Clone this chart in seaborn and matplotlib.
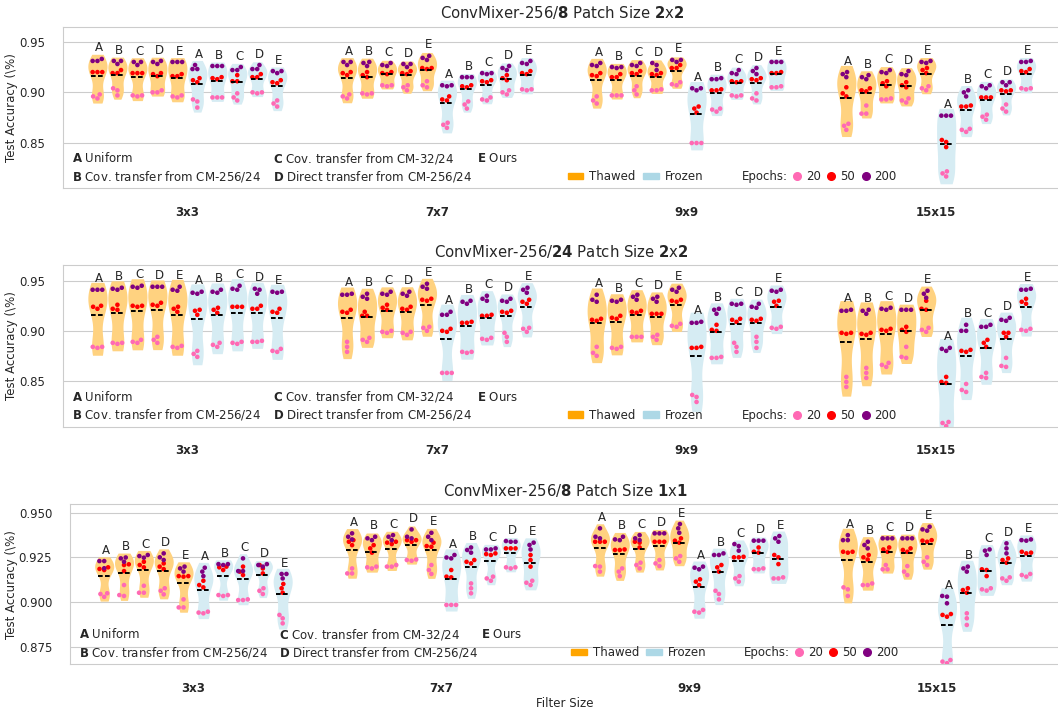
import numpy as np
import pandas as pd
import matplotlib
matplotlib.use("Agg")
from matplotlib import pyplot as plt
from matplotlib.patches import Patch
from matplotlib.lines import Line2D
from matplotlib.ticker import FormatStrFormatter
import seaborn as sns

filters = ['3x3', '7x7', '9x9', '15x15']
modes = ['Thawed', 'Frozen']
methods = ['A', 'B', 'C', 'D', 'E']
epochs = [20, 50, 200]
epoch_colors = ['hotpink', 'red', 'purple']
key_labels = ['Uniform', 'Cov. transfer from CM-256/24', 'Cov. transfer from CM-32/24',
              'Direct transfer from CM-256/24', 'Ours']
titles = [r'ConvMixer-256/$\mathbf{8}$ Patch Size $\mathbf{2}$x$\mathbf{2}$',
          r'ConvMixer-256/$\mathbf{24}$ Patch Size $\mathbf{2}$x$\mathbf{2}$',
          r'ConvMixer-256/$\mathbf{8}$ Patch Size $\mathbf{1}$x$\mathbf{1}$']

# one triplet (3 runs) per violin, ordered filter -> thawed A..E, frozen A..E
p1_e20 = [
    (.898, .896, .894), (.904, .902, .897), (.897, .896, .897), (.902, .900, .900), (.897, .895, .896),
    (.893, .891, .885), (.895, .895, .895), (.899, .895, .892), (.900, .900, .899), (.892, .889, .886),
    (.898, .896, .894), (.899, .899, .898), (.907, .907, .906), (.907, .905, .902), (.911, .907, .905),
    (.870, .868, .865), (.891, .888, .884), (.895, .893, .892), (.902, .900, .898), (.903, .903, .902),
    (.896, .892, .889), (.897, .897, .897), (.906, .902, .898), (.903, .902, .902), (.910, .908, .907),
    (.850, .850, .850), (.884, .883, .881), (.897, .897, .896), (.899, .894, .892), (.906, .905, .905),
    (.869, .867, .863), (.887, .879, .879), (.894, .893, .893), (.894, .892, .890), (.906, .904, .902),
    (.822, .820, .817), (.864, .863, .861), (.878, .876, .873), (.888, .884, .881), (.904, .904, .903)]
p1_e50 = [
    (.920, .920, .920), (.922, .919, .919), (.919, .919, .919), (.919, .918, .916), (.918, .916, .916),
    (.914, .912, .910), (.915, .914, .913), (.917, .911, .911), (.918, .915, .915), (.912, .910, .909),
    (.920, .919, .917), (.920, .917, .915), (.920, .919, .918), (.921, .919, .918), (.924, .924, .923),
    (.896, .893, .892), (.907, .906, .905), (.912, .911, .910), (.917, .914, .912), (.921, .919, .918),
    (.919, .917, .916), (.918, .915, .915), (.921, .919, .918), (.919, .918, .917), (.927, .924, .924),
    (.886, .884, .880), (.903, .902, .902), (.911, .911, .910), (.914, .913, .912), (.920, .919, .919),
    (.905, .899, .896), (.904, .902, .901), (.911, .909, .906), (.910, .907, .905), (.924, .922, .919),
    (.853, .851, .846), (.887, .886, .886), (.895, .895, .895), (.902, .902, .901), (.923, .921, .920)]
p1_e200 = [
    (.931, .931, .933), (.931, .931, .928), (.930, .930, .927), (.931, .930, .928), (.930, .930, .930),
    (.927, .923, .923), (.926, .926, .926), (.925, .922, .922), (.927, .923, .923), (.921, .921, .919),
    (.930, .930, .927), (.930, .929, .926), (.929, .927, .926), (.928, .928, .925), (.936, .934, .932),
    (.907, .907, .906), (.915, .915, .915), (.919, .919, .918), (.926, .924, .922), (.931, .929, .928),
    (.927, .926, .929), (.925, .925, .924), (.929, .927, .926), (.929, .927, .922), (.932, .932, .930),
    (.904, .904, .902), (.914, .913, .913), (.922, .919, .918), (.924, .921, .918), (.930, .930, .930),
    (.920, .918, .915), (.917, .915, .913), (.922, .920, .919), (.921, .918, .917), (.931, .930, .929),
    (.877, .877, .877), (.902, .900, .896), (.907, .906, .904), (.910, .910, .907), (.931, .930, .930)]

p2_e20 = [
    (.884, .884, .883), (.888, .888, .887), (.891, .889, .888), (.894, .891, .888), (.885, .884, .883),
    (.880, .877, .874), (.888, .886, .884), (.889, .888, .887), (.890, .889, .889), (.882, .880, .879),
    (.889, .884, .879), (.893, .891, .889), (.900, .899, .898), (.899, .898, .896), (.904, .903, .900),
    (.858, .858, .858), (.879, .879, .878), (.893, .892, .891), (.898, .894, .889), (.903, .902, .899),
    (.884, .878, .875), (.884, .883, .882), (.894, .894, .894), (.896, .894, .891), (.907, .905, .904),
    (.836, .834, .829), (.874, .873, .873), (.888, .884, .879), (.894, .889, .883), (.904, .903, .902),
    (.854, .849, .844), (.863, .858, .853), (.868, .866, .864), (.884, .874, .873), (.903, .901, .899),
    (.809, .808, .805), (.847, .841, .839), (.858, .854, .853), (.873, .865, .864), (.902, .901, .900)]
p2_e50 = [
    (.925, .924, .922), (.926, .922, .921), (.925, .925, .924), (.928, .926, .925), (.924, .922, .919),
    (.921, .920, .916), (.923, .921, .918), (.924, .924, .924), (.925, .922, .922), (.922, .919, .918),
    (.921, .919, .918), (.919, .915, .915), (.926, .923, .921), (.924, .922, .921), (.932, .931, .930),
    (.902, .900, .899), (.909, .908, .908), (.916, .915, .915), (.920, .919, .918), (.931, .929, .927),
    (.912, .911, .910), (.915, .913, .912), (.920, .919, .918), (.917, .917, .917), (.931, .930, .929),
    (.884, .883, .883), (.906, .901, .900), (.912, .911, .909), (.912, .911, .910), (.930, .929, .925),
    (.898, .898, .897), (.898, .896, .897), (.902, .901, .900), (.904, .901, .899), (.930, .922, .921),
    (.854, .849, .848), (.881, .880, .879), (.891, .888, .884), (.898, .898, .894), (.932, .929, .927)]
p2_e200 = [
    (.941, .941, .941), (.943, .942, .941), (.945, .944, .943), (.944, .944, .944), (.944, .941, .940),
    (.939, .938, .937), (.941, .939, .938), (.945, .942, .941), (.942, .941, .937), (.939, .939, .938),
    (.937, .936, .936), (.937, .934, .932), (.939, .937, .936), (.939, .937, .935), (.947, .944, .942),
    (.919, .916, .916), (.930, .929, .927), (.935, .932, .930), (.932, .930, .929), (.943, .941, .938),
    (.936, .931, .929), (.931, .930, .929), (.936, .934, .931), (.934, .932, .929), (.943, .941, .939),
    (.909, .908, .908), (.922, .921, .917), (.927, .927, .926), (.927, .924, .923), (.941, .940, .939),
    (.921, .920, .920), (.921, .920, .917), (.923, .922, .921), (.921, .921, .921), (.940, .937, .933),
    (.883, .882, .880), (.906, .900, .900), (.906, .904, .904), (.913, .911, .910), (.942, .941, .941)]

p3_e20 = [
    (.9050, .9046, .9030), (.9096, .9040, .9035), (.9092, .9053, .9053), (.9078, .9064, .9044), (.9016, .8971, .8971),
    (.8947, .8938, .8942), (.9040, .9035, .9040), (.9016, .9012, .9012), (.9078, .9064, .9046), (.8929, .8910, .8882),
    (.9189, .9161, .9161), (.9195, .9189, .9199), (.9208, .9199, .9199), (.9239, .9236, .9232), (.9208, .9180, .9158),
    (.8985, .8985, .8985), (.9105, .9078, .9050), (.9143, .9133, .9120), (.9195, .9195, .9189), (.9120, .9109, .9096),
    (.9202, .9199, .9171), (.9189, .9171, .9146), (.9221, .9208, .9189), (.9236, .9217, .9202), (.9258, .9245, .9226),
    (.8957, .8947, .8942), (.9064, .9046, .9016), (.9146, .9133, .9115), (.9189, .9185, .9184), (.9139, .9133, .9133),
    (.9083, .9072, .9035), (.9105, .9096, .9096), (.9208, .9184, .9184), (.9202, .9171, .9152), (.9251, .9226, .9208),
    (.8677, .8668, .8659), (.8938, .8910, .8873), (.9078, .9072, .9065), (.9139, .9133, .9120), (.9158, .9152, .9143)]
p3_e50 = [
    (.9186, .9180, .9195), (.9212, .9208, .9174), (.9226, .9208, .9195), (.9217, .9199, .9185), (.9146, .9143, .9146),
    (.9120, .9096, .9083), (.9195, .9180, .9199), (.9199, .9171, .9152), (.9208, .9189, .9161), (.9102, .9078, .9053),
    (.9347, .9338, .9319), (.9319, .9301, .9277), (.9338, .9333, .9325), (.9347, .9338, .9347), (.9333, .9314, .9310),
    (.9180, .9143, .9139), (.9236, .9226, .9217), (.9273, .9269, .9264), (.9301, .9301, .9301), (.9264, .9236, .9199),
    (.9338, .9338, .9338), (.9295, .9292, .9292), (.9338, .9333, .9306), (.9338, .9338, .9338), (.9357, .9344, .9333),
    (.9128, .9115, .9096), (.9208, .9195, .9171), (.9254, .9251, .9251), (.9306, .9282, .9277), (.9264, .9251, .9213),
    (.9282, .9282, .9277), (.9264, .9251, .9239), (.9306, .9295, .9282), (.9301, .9292, .9282), (.9347, .9344, .9338),
    (.8934, .8929, .8919), (.9078, .9068, .9053), (.9184, .9180, .9146), (.9245, .9236, .9221), (.9282, .9277, .9273)]
p3_e200 = [
    (.9230, .9230, .9190), (.9250, .9245, .9226), (.9264, .9258, .9249), (.9273, .9251, .9236), (.9199, .9189, .9171),
    (.9193, .9171, .9146), (.9213, .9213, .9208), (.9245, .9174, .9174), (.9213, .9208, .9199), (.9158, .9158, .9133),
    (.9385, .9366, .9351), (.9366, .9357, .9347), (.9375, .9366, .9347), (.9407, .9366, .9357), (.9388, .9366, .9347),
    (.9264, .9250, .9245), (.9306, .9292, .9277), (.9301, .9295, .9295), (.9342, .9338, .9338), (.9333, .9320, .9295),
    (.9413, .9366, .9357), (.9366, .9351, .9347), (.9375, .9357, .9347), (.9385, .9385, .9385), (.9437, .9413, .9388),
    (.9199, .9193, .9184), (.9273, .9264, .9264), (.9325, .9314, .9288), (.9344, .9344, .9344), (.9370, .9357, .9338),
    (.9375, .9347, .9347), (.9338, .9320, .9301), (.9357, .9357, .9357), (.9357, .9357, .9357), (.9422, .9407, .9400),
    (.9035, .9031, .8994), (.9199, .9189, .9171), (.9295, .9288, .9264), (.9329, .9301, .9273), (.9351, .9344, .9347)]

panels = [(p1_e20, p1_e50, p1_e200), (p2_e20, p2_e50, p2_e200), (p3_e20, p3_e50, p3_e200)]
ylims = [(0.8053, 0.9648), (0.804, 0.9657), (0.8653, 0.9549)]
yticks = [[0.85, 0.90, 0.95], [0.85, 0.90, 0.95], [0.875, 0.900, 0.925, 0.950]]
yfmt = ['%.2f', '%.2f', '%.3f']
# axes rects in pixels: left, top, right, bottom
rects = [(62.5, 26.7, 1061, 188.3), (62.5, 265, 1061, 427), (69.5, 504, 1061, 664.3)]

groups = [f'{mo} {m}' for mo in modes for m in methods]
fill = {g: ('#ffd280' if g.startswith('Thawed') else '#d6ecf3') for g in groups}
offs = (np.arange(len(groups)) - (len(groups) - 1) / 2) * 0.8 / len(groups)


def make_frame(e20, e50, e200):
    rows = []
    for ep, vals in zip(epochs, [e20, e50, e200]):
        k = 0
        for f in filters:
            for g in groups:
                for v in vals[k]:
                    rows.append((f, g, ep, v))
                k += 1
    return pd.DataFrame(rows, columns=['filter', 'group', 'epoch', 'acc'])


sns.set_style('whitegrid')
plt.rcParams['font.family'] = ['DejaVu Sans']
plt.rcParams['font.size'] = 8.5
W, H = 1058, 710
fig = plt.figure(figsize=(W / 100, H / 100), dpi=100)

for p, (vals, title) in enumerate(zip(panels, titles)):
    l, t, r, b = rects[p]
    ax = fig.add_axes([l / W, 1 - b / H, (r - l) / W, (b - t) / H])
    df = make_frame(*vals)

    sns.violinplot(data=df, x='filter', y='acc', hue='group', order=filters, hue_order=groups,
                   palette=fill, inner=None, cut=0.5, bw_adjust=0.9, density_norm='width',
                   linewidth=0, saturation=1, gap=0.04, legend=False, ax=ax)
    for ep, col in zip(epochs, epoch_colors):
        sns.swarmplot(data=df[df.epoch == ep], x='filter', y='acc', hue='group', order=filters,
                      hue_order=groups, palette={g: col for g in groups}, dodge=True, size=3.3,
                      linewidth=0, legend=False, ax=ax, zorder=3)

    means = df.groupby(['filter', 'group'])['acc'].mean()
    tops = df.groupby(['filter', 'group'])['acc'].max()
    for fi, f in enumerate(filters):
        for gi, g in enumerate(groups):
            x = fi + offs[gi]
            ax.hlines(means[(f, g)], x - 0.026, x + 0.026, colors='black',
                      linestyles=(0, (2.4, 1.2)), lw=1.4, zorder=4)
            ax.annotate(g.split()[-1], (x, tops[(f, g)]), xytext=(1.3, 3.2),
                        textcoords='offset points', ha='center', va='bottom',
                        fontsize=8.5, color='.15')

    ax.set_xlim(-0.5, len(filters) - 0.5)
    ax.set_ylim(*ylims[p])
    ax.set_yticks(yticks[p])
    ax.yaxis.set_major_formatter(FormatStrFormatter(yfmt[p]))
    ax.tick_params(axis='x', labelsize=8.5, pad=9)
    ax.tick_params(axis='y', labelsize=8.5, pad=9)
    for lab in ax.get_xticklabels():
        lab.set_fontweight('bold')
    ax.set_ylabel('Test Accuracy (\\%)', fontsize=8.5, va='center')
    ax.yaxis.set_label_coords((12 - l) / (r - l), 0.5)
    ax.set_xlabel('Filter Size' if p == 2 else '', fontsize=8.5, labelpad=1.5)
    ax.set_title(title, fontsize=10.7, color='.15')

    # method key
    ax.text(0.0097, 0.186, r'$\mathbf{A}$ ' + key_labels[0], transform=ax.transAxes, va='center', fontsize=8.5)
    ax.text(0.0097, 0.076, r'$\mathbf{B}$ ' + key_labels[1], transform=ax.transAxes, va='center', fontsize=8.5)
    ax.text(0.2112, 0.186, r'$\mathbf{C}$ ' + key_labels[2], transform=ax.transAxes, va='center', fontsize=8.5)
    ax.text(0.2112, 0.076, r'$\mathbf{D}$ ' + key_labels[3], transform=ax.transAxes, va='center', fontsize=8.5)
    ax.text(0.4155, 0.183, r'$\mathbf{E}$ ' + key_labels[4], transform=ax.transAxes, va='center', fontsize=8.5)

    leg1 = ax.legend(handles=[Patch(color='orange'), Patch(color='lightblue')], labels=modes,
                     loc='center left', bbox_to_anchor=(0.5058, 0.072), ncol=2, frameon=False,
                     borderpad=0, borderaxespad=0, handlelength=1.35, handleheight=0.5,
                     handletextpad=0.5, columnspacing=0.6, fontsize=8.5)
    ax.add_artist(leg1)
    ax.text(0.6806, 0.072, 'Epochs:', transform=ax.transAxes, va='center', fontsize=8.5)
    mk = [Line2D([], [], marker='o', ls='', color=c, markersize=5.5) for c in epoch_colors]
    ax.legend(handles=mk, labels=[str(e) for e in epochs], loc='center left',
              bbox_to_anchor=(0.7315, 0.072), ncol=3, frameon=False, borderpad=0, borderaxespad=0,
              handlelength=0.7, handletextpad=0.4, columnspacing=0.55, fontsize=8.5)

fig.savefig('out.png', dpi=100)
